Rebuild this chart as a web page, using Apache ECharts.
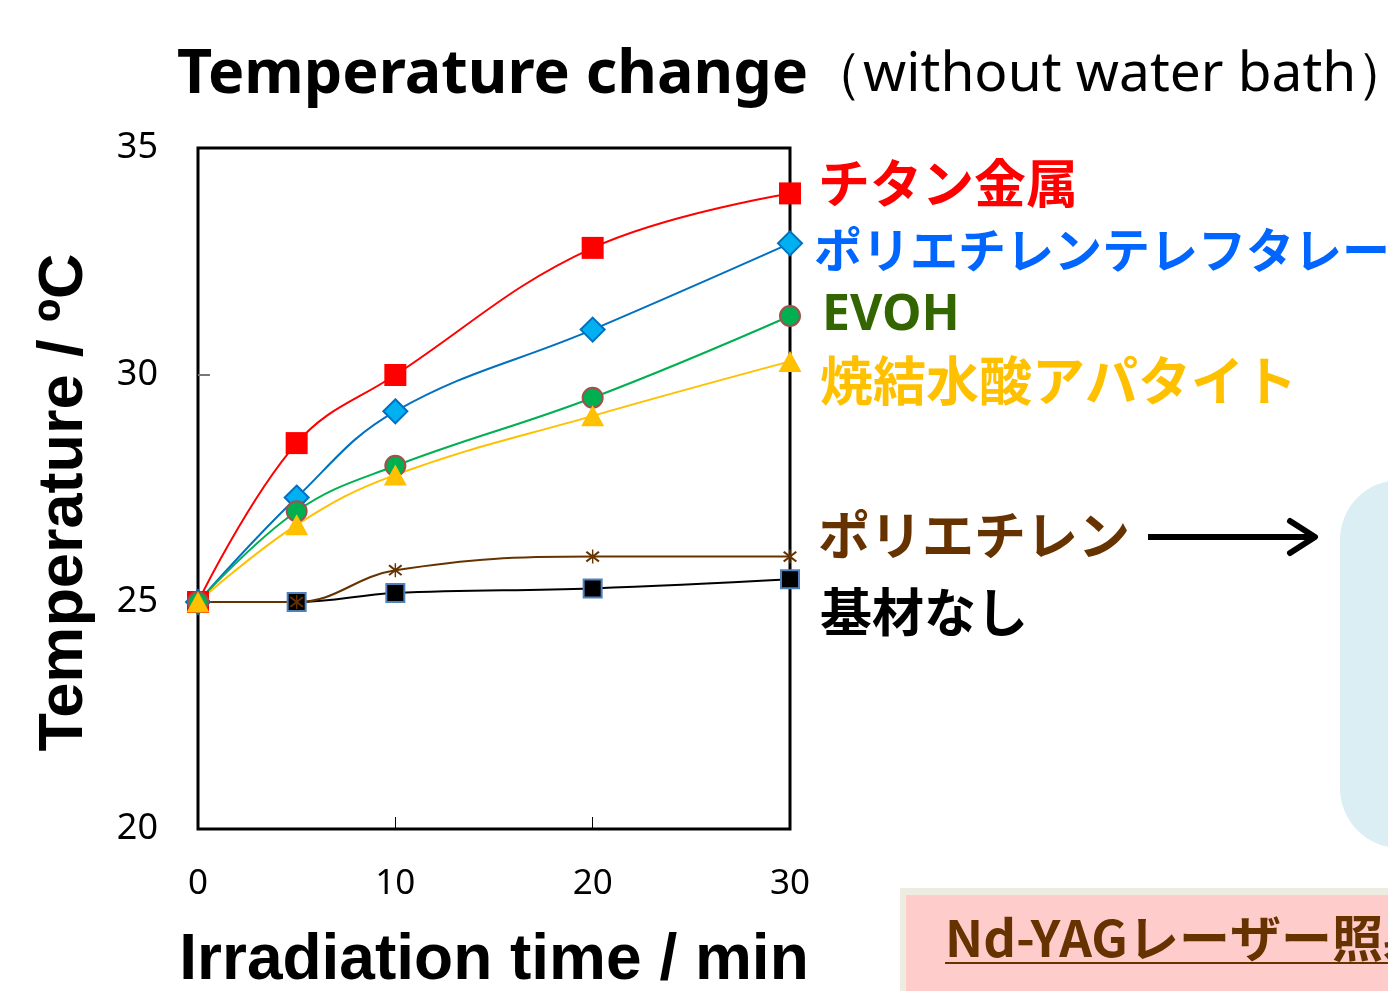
<!DOCTYPE html>
<html><head><meta charset="utf-8">
<script src="https://cdn.jsdelivr.net/npm/echarts@6/dist/echarts.min.js"></script>
<style>html,body{margin:0;padding:0;background:#fff}#c{width:1388px;height:991px}</style>
</head><body><div id="c"></div>
<script>
// ---- data ----
const times = [0, 5, 10, 20, 30];
const titanium = [25.0, 28.5, 30.0, 32.8, 34.0];
const pet = [25.0, 27.3, 29.2, 31.0, 32.9];
const evoh = [25.0, 27.0, 28.0, 29.5, 31.3];
const hap = [25.0, 26.7, 27.8, 29.1, 30.3];
const polyethylene = [25.0, 25.0, 25.7, 26.0, 26.0];
const noSubstrate = [25.0, 25.0, 25.2, 25.3, 25.5];
const seriesNames = ['チタン金属', 'ポリエチレンテレフタレート', 'EVOH', '焼結水酸アパタイト', 'ポリエチレン', '基材なし'];
const xTicks = [0, 10, 20, 30];
const yTicks = [20, 25, 30, 35];
const xInnerTicks = [10, 20];
const yInnerTicks = [25, 30];
const titleMain = 'Temperature change';
const titleSub = '（without water bath）';
const xName = 'Irradiation time / min';
const yName = 'Temperature / ºC';
const boxText = 'Nd-YAGレーザー照射条件';

const pair = arr => times.map((t, i) => [t, arr[i]]);
const asterisk = 'path://M9,0L11,0L11,20L9,20Z M0,4L2,2L20,16L18,18Z M18,2L20,4L2,18L0,16Z';

const chart = echarts.init(document.getElementById('c'));
const base = { type: 'line', smooth: 0.4, z: 3 };
chart.setOption({
  animation: false,
  backgroundColor: '#fff',
  title: {
    left: 172, top: 40,
    text: '{b|' + titleMain + '}{r|' + titleSub + '}',
    textStyle: { rich: {
      b: { fontFamily: 'Noto Sans', fontWeight: 'bold', fontSize: 61, color: '#000' },
      r: { fontFamily: 'Noto Sans', fontWeight: 'normal', fontSize: 55, color: '#000' }
    } }
  },
  grid: { left: 198, top: 148, right: 598, bottom: 162, show: true, borderColor: '#000', borderWidth: 3, backgroundColor: '#fff', containLabel: false, outerBoundsMode: 'none' },
  xAxis: {
    type: 'value', min: 0, max: 30, interval: 10,
    name: xName, nameLocation: 'middle', nameGap: 100,
    nameTextStyle: { fontFamily: 'Liberation Sans', fontWeight: 'bold', fontSize: 64, color: '#000' },
    axisLine: { show: false },
    axisTick: { show: true, inside: true, length: 12, customValues: xInnerTicks, lineStyle: { color: '#000', width: 1 } },
    axisLabel: { margin: 38, fontFamily: 'Noto Sans', fontSize: 35, color: '#000', formatter: v => xTicks.includes(v) ? String(v) : '' },
    splitLine: { show: false }
  },
  yAxis: {
    type: 'value', min: 20, max: 35, interval: 5,
    name: yName, nameLocation: 'middle', nameGap: 102,
    nameTextStyle: { fontFamily: 'Liberation Sans', fontWeight: 'bold', fontSize: 63, color: '#000', padding: [0, 28, 0, 0] },
    axisLine: { show: false },
    axisTick: { show: true, inside: true, length: 12, customValues: yInnerTicks, lineStyle: { color: '#777', width: 2 } },
    axisLabel: { margin: 40, fontFamily: 'Noto Sans', fontSize: 36, color: '#000', formatter: v => yTicks.includes(v) ? String(v) : '' },
    splitLine: { show: false }
  },
  series: [
    Object.assign({}, base, { name: seriesNames[5], data: pair(noSubstrate), symbol: 'rect', symbolSize: 18,
      lineStyle: { color: '#000', width: 2 }, itemStyle: { color: '#000', borderColor: '#4F81BD', borderWidth: 2 } }),
    Object.assign({}, base, { name: seriesNames[4], data: pair(polyethylene), symbol: asterisk, symbolSize: 14,
      lineStyle: { color: '#663300', width: 2 }, itemStyle: { color: '#663300' } }),
    Object.assign({}, base, { name: seriesNames[0], data: pair(titanium), symbol: 'rect', symbolSize: 22,
      lineStyle: { color: '#FF0000', width: 2 }, itemStyle: { color: '#FF0000' } }),
    Object.assign({}, base, { name: seriesNames[1], data: pair(pet), symbol: 'diamond', symbolSize: 24,
      lineStyle: { color: '#0070C0', width: 2 }, itemStyle: { color: '#00B0F0', borderColor: '#0070C0', borderWidth: 2 } }),
    Object.assign({}, base, { name: seriesNames[2], data: pair(evoh), symbol: 'circle', symbolSize: 20,
      lineStyle: { color: '#00B050', width: 2 }, itemStyle: { color: '#00B050', borderColor: '#A0504D', borderWidth: 2 } }),
    Object.assign({}, base, { name: seriesNames[3], data: pair(hap), symbol: 'triangle', symbolSize: [23, 21],
      lineStyle: { color: '#FFC000', width: 2 }, itemStyle: { color: '#FFC000' } })
  ],
  graphic: [
    // light blue rounded panel (cropped slide element)
    { type: 'rect', shape: { x: 1340, y: 480, width: 120, height: 368, r: 60 }, style: { fill: '#DAEEF3' }, z: 0 },
    // pink condition box (cropped)
    { type: 'rect', shape: { x: 900, y: 888, width: 500, height: 120 }, style: { fill: '#EEECE1' }, z: 0 },
    { type: 'rect', shape: { x: 906, y: 895, width: 500, height: 120 }, style: { fill: '#FFCCCC' }, z: 1 },
    { type: 'text', x: 945, y: 938, scaleX: 1.02, z: 2, style: { text: boxText, font: 'bold 50px "Noto Sans CJK JP"', fill: '#663300', textVerticalAlign: 'middle' } },
    { type: 'line', shape: { x1: 945, y1: 963, x2: 1400, y2: 963 }, style: { stroke: '#663300', lineWidth: 2 }, z: 2 },
    // series labels
    { type: 'text', x: 818, y: 183, style: { text: seriesNames[0], font: 'bold 52px "Noto Sans CJK JP"', fill: '#FF0000', textVerticalAlign: 'middle' } },
    { type: 'text', x: 814, y: 250, style: { text: seriesNames[1], font: 'bold 48px "Noto Sans CJK JP"', fill: '#0066FF', textVerticalAlign: 'middle' } },
    { type: 'text', x: 822, y: 316, style: { text: seriesNames[2], font: 'bold 50px "Noto Sans"', fill: '#336600', textVerticalAlign: 'middle' } },
    { type: 'text', x: 820, y: 381, style: { text: seriesNames[3], font: 'bold 53px "Noto Sans CJK JP"', fill: '#FFC000', textVerticalAlign: 'middle' } },
    { type: 'text', x: 818, y: 535, style: { text: seriesNames[4], font: 'bold 52px "Noto Sans CJK JP"', fill: '#663300', textVerticalAlign: 'middle' } },
    { type: 'text', x: 820, y: 612, style: { text: seriesNames[5], font: 'bold 52px "Noto Sans CJK JP"', fill: '#000000', textVerticalAlign: 'middle' } },
    // arrow
    { type: 'line', shape: { x1: 1148, y1: 537, x2: 1312, y2: 537 }, style: { stroke: '#000', lineWidth: 6 } },
    { type: 'polyline', shape: { points: [[1290, 521], [1315, 537], [1290, 553]] }, style: { stroke: '#000', lineWidth: 6, fill: null, lineCap: 'round', lineJoin: 'round' } }
  ]
});
</script></body></html>
